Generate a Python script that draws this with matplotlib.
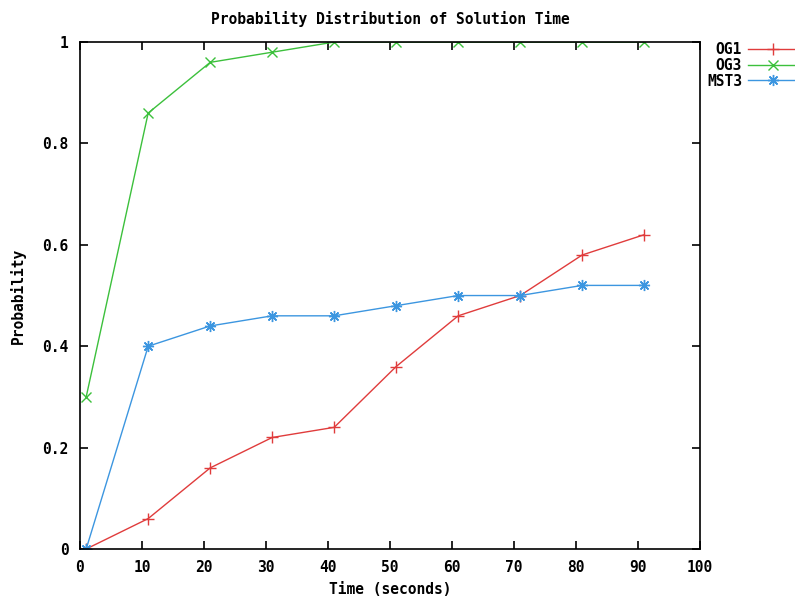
import matplotlib
matplotlib.use("Agg")
import matplotlib.pyplot as plt

# data
time_s = [1, 11, 21, 31, 41, 51, 61, 71, 81, 91]
og1 = [0, 0.06, 0.16, 0.22, 0.24, 0.36, 0.46, 0.50, 0.58, 0.62]
og3 = [0.30, 0.86, 0.96, 0.98, 1, 1, 1, 1, 1, 1]
mst3 = [0, 0.40, 0.44, 0.46, 0.46, 0.48, 0.50, 0.50, 0.52, 0.52]

xticks = list(range(0, 101, 10))
yticks = [0, 0.2, 0.4, 0.6, 0.8, 1]
ytick_labels = ["0", "0.2", "0.4", "0.6", "0.8", "1"]

plt.rcParams['font.family'] = ['DejaVu Sans Mono']
plt.rcParams['font.weight'] = 'bold'
plt.rcParams['font.size'] = 10.5

fig = plt.figure(figsize=(7.95, 6.01), dpi=100)
ax = fig.add_axes([0.1006, 0.0865, 0.7799, 0.8435])

ax.plot(time_s, og1, color='#e03c3c', lw=1, marker='+', ms=8, mew=1, label='OG1')
ax.plot(time_s, og3, color='#3cc03c', lw=1, marker='x', ms=7, mew=1, label='OG3')
ax.plot(time_s, mst3, color='#3c96e0', lw=1, marker=(8, 2, 0), ms=8, mew=1, label='MST3')

ax.set_xlim(0, 100)
ax.set_ylim(0, 1)
ax.set_xticks(xticks)
ax.set_yticks(yticks)
ax.set_yticklabels(ytick_labels)
ax.tick_params(direction='in', top=True, right=True, length=6, width=1.2, pad=8)
for s in ax.spines.values():
    s.set_linewidth(1.2)

ax.set_title('Probability Distribution of Solution Time', fontweight='bold',
             fontsize=10.5, pad=13)
ax.set_xlabel('Time (seconds)', fontweight='bold', labelpad=5)
ax.set_ylabel('Probability', fontweight='bold', labelpad=12)

ax.legend(loc='upper left', bbox_to_anchor=(0.995, 1.02), frameon=False,
          markerfirst=False, handlelength=3.4, handletextpad=0.4,
          labelspacing=0.05, borderaxespad=0.3)

fig.savefig('out.png', dpi=100)
